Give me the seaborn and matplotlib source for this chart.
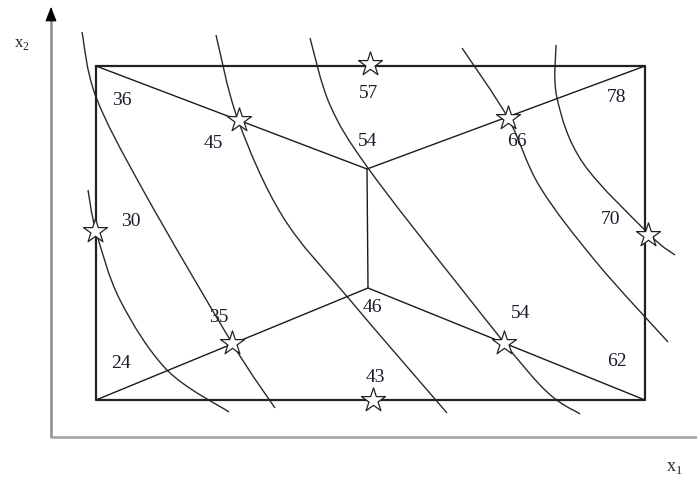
import numpy as np
import pandas as pd
import matplotlib
matplotlib.use('Agg')
import matplotlib.pyplot as plt
import seaborn as sns
from matplotlib.path import Path
from matplotlib.patches import PathPatch

# outer box corners and the two inner vertices (pixel-like coords, y down)
box_x = [96, 645, 645, 96, 96]
box_y = [66, 66, 400, 400, 66]
inner_top = (367, 169)
inner_bot = (368, 288)

# value labels
label_x = [122, 213, 369, 368, 517, 617, 131, 611, 219, 372, 521, 375, 121, 617]
label_y = [100, 143, 93, 142, 142, 97, 222, 220, 317, 308, 313, 378, 364, 362]
label_txt = ['36', '45', '57', '54', '66', '78', '30', '70', '35', '46', '54', '43', '24', '62']

# star points
star_x = [95, 239, 370, 508, 648, 232, 373, 504]
star_y = [231, 120, 64, 118, 235, 343, 400, 343]

# contour curves, a few points for each
curves = {
    'c1': ([88, 96, 120, 167, 229], [190, 231, 300, 370, 412]),
    'c2': ([82, 96, 143, 232, 275], [32, 97, 190, 343, 408]),
    'c3': ([216, 238, 283, 350, 447], [35, 120, 217, 300, 413]),
    'c4': ([310, 330, 368, 460, 540, 580], [38, 105, 168, 287, 385, 414]),
    'c5': ([462, 508, 540, 597, 668], [48, 118, 187, 263, 342]),
    'c6': ([556, 557, 583, 650, 675], [45, 98, 163, 235, 255]),
}


def smooth_path(xs, ys):
    # Catmull-Rom through the read points, drawn as cubic Bezier pieces
    p = np.column_stack([xs, ys]).astype(float)
    p = np.vstack([p[0], p, p[-1]])
    verts = [p[1]]
    codes = [Path.MOVETO]
    for i in range(1, len(p) - 2):
        c1 = p[i] + (p[i + 1] - p[i - 1]) / 6
        c2 = p[i + 1] - (p[i + 2] - p[i]) / 6
        verts += [c1, c2, p[i + 1]]
        codes += [Path.CURVE4] * 3
    return Path(verts, codes)


sns.set_style('white')
plt.rcParams['font.family'] = ['Liberation Serif', 'DejaVu Serif']
plt.rcParams['mathtext.fontset'] = 'custom'
plt.rcParams['mathtext.rm'] = 'Liberation Serif'

fig = plt.figure(figsize=(6.97, 4.79), dpi=100)
ax = fig.add_axes([0, 0, 1, 1])
ax.set_xlim(0, 697)
ax.set_ylim(479, 0)
ax.axis('off')

# coordinate axes
ax.plot([51, 51], [14, 437], color='#8c8c8c', lw=1.8, solid_capstyle='butt')
ax.plot([51, 697], [437, 437], color='#a0a0a0', lw=1.8)
ax.annotate('', xy=(51, 4), xytext=(51, 18),
            arrowprops=dict(arrowstyle='-|>,head_length=0.9,head_width=0.35',
                            color='black', lw=0.8))

# curves
for name, (cx, cy) in curves.items():
    ax.add_patch(PathPatch(smooth_path(cx, cy), facecolor='none',
                           edgecolor='#2a2a2a', lw=1.0))

# box
sns.lineplot(x=box_x, y=box_y, sort=False, estimator=None, ax=ax,
             color='#222222', lw=1.6)

# inner segments
segs = pd.DataFrame({
    'x': [96, inner_top[0], 645, inner_top[0], inner_bot[0], 96, inner_bot[0], 645, inner_bot[0]],
    'y': [66, inner_top[1], 66, inner_top[1], inner_bot[1], 400, inner_bot[1], 400, inner_bot[1]],
})
for path in [[0, 1, 2], [1, 4], [5, 6, 7]]:
    sub = segs.iloc[path]
    sns.lineplot(data=sub, x='x', y='y', sort=False, estimator=None, ax=ax,
                 color='#1a1a1a', lw=1.0)

# stars
sns.scatterplot(x=star_x, y=star_y, marker='*', s=330, color='white',
                edgecolor='#222222', linewidth=0.9, ax=ax, zorder=5)

for x, y, t in zip(label_x, label_y, label_txt):
    ax.text(x, y, t, fontsize=14, ha='center', va='center', color='#1a1a2a')

ax.text(22, 44, r'$\mathrm{x}_2$', fontsize=12, ha='center', va='center',
        fontweight='bold')
ax.text(674, 468, r'$\mathrm{x}_1$', fontsize=13, ha='center', va='center')

fig.savefig('out.png', dpi=100)
